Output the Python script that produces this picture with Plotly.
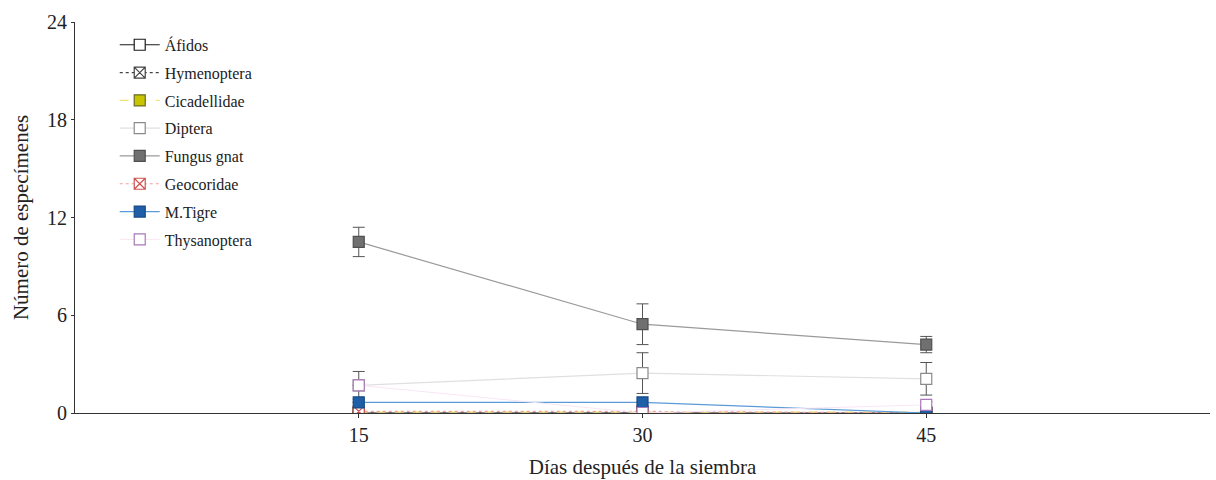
import plotly.graph_objects as go

# Sampling dates (days after sowing)
dias = [15, 30, 45]

# Mean specimens per group and their error bars
afidos = [0.0, 0.0, 0.0]
afidos_err = [0.0, 0.0, 0.0]
hymenoptera = [0.0, 0.0, 0.0]
hymenoptera_err = [0.0, 0.0, 0.0]
cicadellidae = [0.05, 0.05, 0.05]
cicadellidae_err = [0.0, 0.0, 0.0]
diptera = [1.7, 2.45, 2.1]
diptera_err = [0.85, 1.25, 1.0]
fungus_gnat = [10.5, 5.45, 4.2]
fungus_gnat_err = [0.9, 1.25, 0.5]
geocoridae = [0.1, 0.1, 0.0]
geocoridae_err = [0.0, 0.0, 0.0]
m_tigre = [0.65, 0.65, 0.0]
m_tigre_err = [0.0, 0.0, 0.0]
thysanoptera = [1.7, 0.0, 0.5]
thysanoptera_err = [0.0, 0.0, 0.2]

y_ticks = [0, 6, 12, 18, 24]
x_ticks = [15, 30, 45]

series = [
    ("Áfidos", afidos, afidos_err,
     dict(color="#1a1a1a", width=1.2, dash="solid"),
     dict(symbol="square", color="white", line=dict(color="#1a1a1a", width=1.2))),
    ("Hymenoptera", hymenoptera, hymenoptera_err,
     dict(color="#444444", width=1.2, dash="dot"),
     dict(symbol="square-x", color="white", line=dict(color="#444444", width=1.2))),
    ("Cicadellidae", cicadellidae, cicadellidae_err,
     dict(color="#f2e27a", width=1.2, dash="dash"),
     dict(symbol="square", color="#c9c400", line=dict(color="#6b6a20", width=1.2))),
    ("Diptera", diptera, diptera_err,
     dict(color="#e0e0e0", width=1.2, dash="solid"),
     dict(symbol="square", color="white", line=dict(color="#8a8a8a", width=1.2))),
    ("Fungus gnat", fungus_gnat, fungus_gnat_err,
     dict(color="#9a9a9a", width=1.2, dash="solid"),
     dict(symbol="square", color="#707070", line=dict(color="#505050", width=1.2))),
    ("Geocoridae", geocoridae, geocoridae_err,
     dict(color="#f2a0a0", width=1.2, dash="dot"),
     dict(symbol="square-x", color="white", line=dict(color="#d05050", width=1.2))),
    ("M.Tigre", m_tigre, m_tigre_err,
     dict(color="#5a9ad8", width=1.2, dash="solid"),
     dict(symbol="square", color="#1f5fa8", line=dict(color="#174a85", width=1.2))),
    ("Thysanoptera", thysanoptera, thysanoptera_err,
     dict(color="#f8e6f3", width=1.0, dash="solid"),
     dict(symbol="square", color="white", line=dict(color="#a878b8", width=1.2))),
]

fig = go.Figure()
for i, (name, vals, errs, line, marker) in enumerate(series):
    fig.add_trace(go.Scatter(
        x=dias, y=vals, name=name, mode="lines+markers",
        legendgroup=f"g{i}",
        line=line,
        marker=dict(size=11, **marker),
        error_y=dict(type="data", array=errs, visible=True,
                     color="#555555", thickness=1, width=6),
    ))

font_family = "Liberation Serif, Times New Roman, serif"

fig.update_layout(
    width=1216, height=480,
    margin=dict(l=75, r=6, t=22, b=67),
    paper_bgcolor="white", plot_bgcolor="white",
    font=dict(family=font_family, size=20, color="#222222"),
    showlegend=True,
    legend=dict(
        x=0.035, y=0.985, xanchor="left", yanchor="top",
        font=dict(family=font_family, size=16, color="#222222"),
        bgcolor="rgba(0,0,0,0)", tracegroupgap=4,
        itemwidth=40,
    ),
    xaxis=dict(
        range=[0, 60], tickmode="array", tickvals=x_ticks,
        ticktext=[str(v) for v in x_ticks],
        showline=True, linecolor="#333333", linewidth=1,
        ticks="outside", ticklen=4, tickcolor="#333333",
        showgrid=False, zeroline=False, automargin=False,
        title=dict(text="Días después de la siembra", standoff=14,
                   font=dict(family=font_family, size=21)),
    ),
    yaxis=dict(
        range=[0, 24], tickmode="array", tickvals=y_ticks,
        showline=True, linecolor="#333333", linewidth=1,
        ticks="outside", ticklen=3, tickcolor="#333333",
        showgrid=False, zeroline=False, automargin=False,
        title=dict(text="Número de especímenes", standoff=12,
                   font=dict(family=font_family, size=21)),
    ),
)

fig.write_html("out.html")
